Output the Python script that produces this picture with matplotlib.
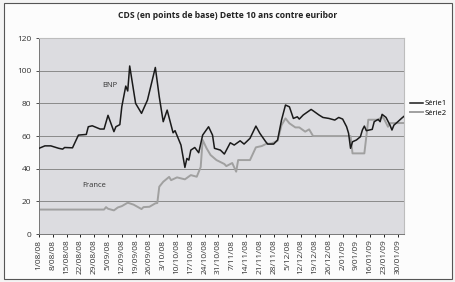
import matplotlib
matplotlib.use("Agg")
import matplotlib.pyplot as plt
import pandas as pd
from matplotlib.patches import Rectangle

plt.rcParams["font.family"] = ["Open Sans", "DejaVu Sans"]

# BNP (Série1)
bnp_dates = [
    "2008-08-01", "2008-08-04", "2008-08-07", "2008-08-11", "2008-08-13", "2008-08-14",
    "2008-08-18", "2008-08-21", "2008-08-25", "2008-08-26", "2008-08-28", "2008-09-01",
    "2008-09-03", "2008-09-05", "2008-09-08", "2008-09-09", "2008-09-11", "2008-09-12",
    "2008-09-14", "2008-09-15", "2008-09-16", "2008-09-19", "2008-09-22", "2008-09-25",
    "2008-09-29", "2008-10-01", "2008-10-03", "2008-10-05", "2008-10-08", "2008-10-09",
    "2008-10-12", "2008-10-14", "2008-10-15", "2008-10-16", "2008-10-17", "2008-10-19",
    "2008-10-21", "2008-10-23", "2008-10-26", "2008-10-28", "2008-10-29", "2008-11-01",
    "2008-11-03", "2008-11-06", "2008-11-08", "2008-11-11", "2008-11-13", "2008-11-16",
    "2008-11-19", "2008-11-21", "2008-11-24", "2008-11-25", "2008-11-28", "2008-11-30",
    "2008-12-02", "2008-12-04", "2008-12-06", "2008-12-08", "2008-12-10", "2008-12-11",
    "2008-12-13", "2008-12-17", "2008-12-18", "2008-12-21", "2008-12-23", "2008-12-26",
    "2008-12-29", "2008-12-31", "2009-01-02", "2009-01-04", "2009-01-05", "2009-01-06",
    "2009-01-07", "2009-01-09", "2009-01-11", "2009-01-12", "2009-01-13", "2009-01-14",
    "2009-01-17", "2009-01-18", "2009-01-20", "2009-01-21", "2009-01-22", "2009-01-24",
    "2009-01-26", "2009-01-27", "2009-01-28", "2009-01-30", "2009-02-01", "2009-02-02",
]
bnp_values = [
    52.5, 54, 54, 52.5, 52, 53,
    52.8, 60.6, 61, 65.7, 66.3, 64.3,
    64.3, 72.7, 62.7, 65.7, 67, 78,
    90.6, 87.6, 102.9, 80, 73.9, 82,
    102, 84, 68.8, 75.9, 62, 63.3,
    54.5, 40.8, 46.3, 45.3, 51.4, 53,
    49.8, 60.6, 65.7, 60.6, 52.5, 51.4,
    49, 55.9, 54.5, 57.1, 55.1, 58.6,
    66.1, 61.7, 56.5, 55.1, 55.1, 57.6,
    69.8, 79, 77.9, 70.8, 71.8, 70.4,
    72.9, 76.3, 75.5, 72.9, 71.4, 70.8,
    69.8, 71.4, 70.4, 65.7, 61.7, 52.5,
    56.5, 57.6, 59.6, 63.7, 66.1, 63.3,
    64.1, 68.8, 70.2, 68.8, 73.3, 71.4,
    66.7, 63.7, 66.7, 68.8, 71, 72,
]

# France (Série2)
fr_dates = [
    "2008-08-01", "2008-09-03", "2008-09-04", "2008-09-05", "2008-09-08", "2008-09-10",
    "2008-09-12", "2008-09-15", "2008-09-18", "2008-09-22", "2008-09-23", "2008-09-26",
    "2008-09-29", "2008-09-30", "2008-10-01", "2008-10-03", "2008-10-06", "2008-10-07",
    "2008-10-10", "2008-10-14", "2008-10-17", "2008-10-20", "2008-10-22", "2008-10-23",
    "2008-10-25", "2008-10-27", "2008-10-30", "2008-11-03", "2008-11-04", "2008-11-07",
    "2008-11-09", "2008-11-10", "2008-11-16", "2008-11-19", "2008-11-22", "2008-11-24",
    "2008-11-27", "2008-11-30", "2008-12-02", "2008-12-04", "2008-12-06", "2008-12-09",
    "2008-12-11", "2008-12-14", "2008-12-16", "2008-12-18", "2009-01-06", "2009-01-07",
    "2009-01-13", "2009-01-15", "2009-01-20", "2009-01-22", "2009-01-23", "2009-01-25",
    "2009-01-26", "2009-02-02",
]
fr_values = [
    15, 15, 16.5, 15.5, 14.5, 16.3,
    17.1, 19.2, 18, 15.3, 16.5, 16.7,
    18.8, 19, 29, 32, 35, 33,
    34.7, 33.5, 36.1, 35.1, 41, 57.6,
    52.5, 48.4, 45.3, 42.9, 41.6, 43.5,
    38.2, 45.3, 45.3, 53.1, 53.9, 55.1,
    55.5, 57.1, 66.7, 70.8, 67.8, 65.3,
    65.3, 62.7, 64.1, 60, 60, 49.4,
    49.4, 70, 70, 71.8, 70.5, 65.7,
    67.9, 68,
]

tick_dates = pd.date_range("2008-08-01", "2009-01-30", freq="7D")
tick_labels = [
    "1/08/08", "8/08/08", "15/08/08", "22/08/08", "29/08/08", "5/09/08", "12/09/08",
    "19/09/08", "26/09/08", "3/10/08", "10/10/08", "17/10/08", "24/10/08", "31/10/08",
    "7/11/08", "14/11/08", "21/11/08", "28/11/08", "5/12/08", "12/12/08", "19/12/08",
    "26/12/08", "2/01/09", "9/01/09", "16/01/09", "23/01/09", "30/01/09",
]

fig = plt.figure(figsize=(4.56, 2.82), dpi=100)
fig.patch.set_facecolor("#f4f4f4")
fig.patches.append(Rectangle((0.008, 0.012), 0.984, 0.978, transform=fig.transFigure,
                             facecolor="#fcfcfc", edgecolor="#555555", linewidth=0.8,
                             zorder=-10))

ax = fig.add_axes([0.0855, 0.170, 0.80, 0.695])
ax.set_facecolor("#dcdce0")

ax.plot(pd.to_datetime(bnp_dates), bnp_values, color="#1a1a1a", linewidth=1.1, label="Série1", zorder=3)
ax.plot(pd.to_datetime(fr_dates), fr_values, color="#a0a0a0", linewidth=1.4, label="Série2", zorder=2)

ax.set_ylim(0, 120)
ax.set_yticks(range(0, 121, 20))
ax.set_xlim(pd.Timestamp("2008-08-01"), pd.Timestamp("2009-02-02"))
ax.set_xticks(tick_dates)
ax.set_xticklabels(tick_labels, rotation=90, fontsize=6, color="#333333")
ax.tick_params(axis="y", labelsize=6, colors="#333333", length=2, width=0.6)
ax.tick_params(axis="x", length=2, width=0.6, pad=2)
ax.grid(axis="y", color="#8a8a8a", linewidth=0.7)
ax.set_axisbelow(True)
for side in ["top", "right"]:
    ax.spines[side].set_color("#bdbdbd")
for side in ["left", "bottom"]:
    ax.spines[side].set_color("#777777")
    ax.spines[side].set_linewidth(0.7)

ax.text(pd.Timestamp("2008-09-06"), 91, "BNP", fontsize=5.5, color="#333333", ha="center", va="center")
ax.text(pd.Timestamp("2008-08-29"), 30, "France", fontsize=5.5, color="#333333", ha="center", va="center")

fig.text(0.5, 0.945, "CDS (en points de base) Dette 10 ans contre euribor",
         fontsize=6.2, fontweight="bold", ha="center", va="center", color="#222222")

fig.legend(loc="center left", bbox_to_anchor=(0.885, 0.615), frameon=False, fontsize=5.5,
           handlelength=1.6, handletextpad=0.3, labelspacing=0.3)

fig.savefig("out.png", dpi=100, facecolor=fig.get_facecolor())
